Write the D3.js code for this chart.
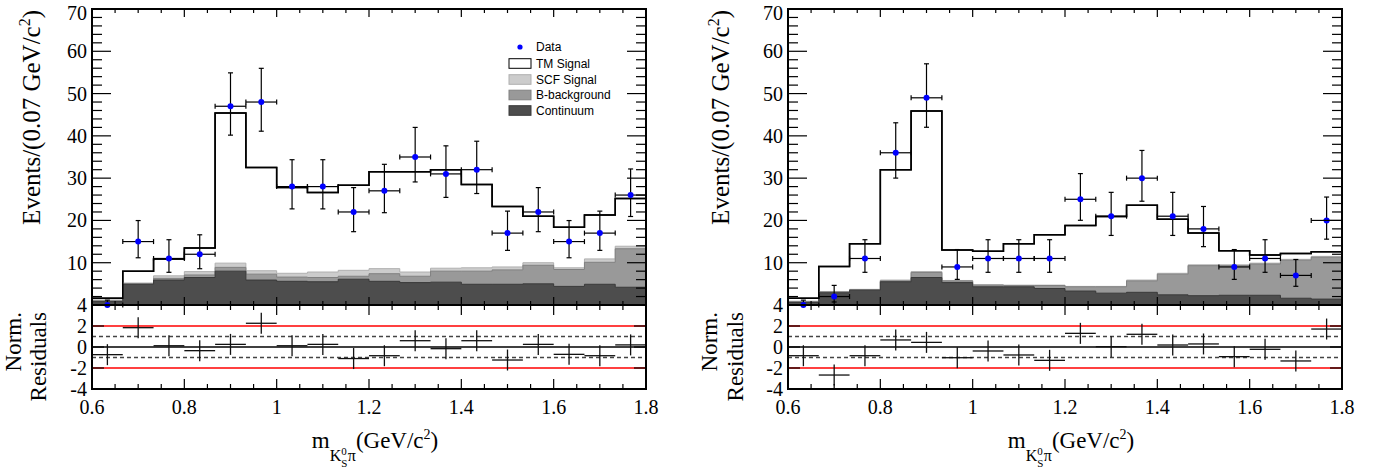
<!DOCTYPE html>
<html>
<head>
<meta charset="utf-8">
<script src="https://cdn.jsdelivr.net/npm/d3@7"></script>
<style>
  body { margin: 0; background: #fff; }
  svg { display: block; }
  text { font-family: "Liberation Serif", "Times New Roman", serif; fill: #000; }
  .legend text { font-family: "Liberation Sans", Arial, sans-serif; }
</style>
</head>
<body>
<div id="chart"></div>
<script>
// binning: 18 bins between 0.6 and 1.8 GeV/c^2
const binLo = 0.6;
const binHi = 1.8;
const nBins = 18;

// LEFT PANEL
// data counts per bin with their (asymmetric) error bars
const leftData = [0, 15, 11, 12, 47, 48, 28, 28, 22, 27, 35, 31, 32, 17, 22, 15, 17, 26];
const leftErrLo = [0, 3.83, 3.27, 3.42, 6.83, 6.9, 5.27, 5.27, 4.66, 5.17, 5.9, 5.55, 5.64, 4.08, 4.66, 3.83, 4.08, 5.07];
const leftErrHi = [1.15, 4.97, 4.44, 4.6, 7.9, 7.97, 6.36, 6.36, 5.76, 6.27, 7.0, 6.64, 6.73, 5.2, 5.76, 4.97, 5.2, 6.17];
// stacked components (bottom to top)
const leftContinuum = [0.8, 4.9, 5.9, 6.5, 8.0, 5.9, 5.6, 5.5, 6.1, 5.6, 5.3, 5.4, 4.9, 4.9, 5.0, 4.4, 4.9, 4.2];
const leftBBkg = [0.2, 0.1, 0.4, 0.6, 0.9, 1.4, 1.0, 1.0, 0.7, 1.8, 1.5, 2.6, 3.1, 3.4, 4.4, 4.0, 5.2, 9.1];
const leftScf = [0.2, 0.2, 0.6, 0.8, 1.0, 0.8, 0.9, 1.3, 1.4, 1.2, 1.0, 0.7, 0.8, 0.7, 0.6, 0.4, 0.8, 0.6];
const leftTm = [0.4, 2.8, 4.0, 5.6, 35.5, 24.4, 20.3, 18.8, 20.1, 22.9, 23.7, 23.3, 19.7, 14.3, 11.0, 9.6, 10.4, 11.3];
// normalized residuals
const leftPull = [-0.73, 1.84, 0.12, -0.35, 0.25, 2.26, 0.12, 0.25, -1.1, -0.83, 0.6, -0.16, 0.6, -1.24, 0.25, -0.7, -0.83, 0.2];

// RIGHT PANEL
const rightData = [0, 2, 11, 36, 49, 9, 11, 11, 11, 25, 21, 30, 21, 18, 9, 11, 7, 20];
const rightErrLo = [0, 1.29, 3.27, 5.99, 6.97, 2.94, 3.27, 3.27, 3.27, 4.97, 4.55, 5.46, 4.55, 4.2, 2.94, 3.27, 2.58, 4.43];
const rightErrHi = [1.15, 2.64, 4.44, 7.09, 8.04, 4.11, 4.44, 4.44, 4.44, 6.07, 5.64, 6.55, 5.64, 5.3, 4.11, 4.44, 3.76, 5.53];
const rightContinuum = [0.6, 2.9, 3.5, 5.5, 6.5, 5.3, 4.3, 4.3, 3.9, 3.3, 2.8, 3.0, 2.4, 2.2, 2.3, 2.3, 1.6, 1.4];
const rightBBkg = [0.2, 0.2, 0.1, 0.2, 1.2, 0.4, 0.4, 0.3, 0.7, 1.0, 1.5, 2.7, 4.9, 7.1, 7.0, 7.4, 9.0, 9.9];
const rightScf = [0.1, 0.1, 0.1, 0.2, 0.2, 0.1, 0.1, 0.1, 0.1, 0.1, 0.1, 0.2, 0.2, 0.2, 0.2, 0.2, 0.2, 0.2];
const rightTm = [0.7, 5.9, 10.8, 26.1, 38.0, 7.2, 7.9, 9.8, 11.9, 14.4, 16.5, 17.7, 12.8, 7.5, 3.3, 1.9, 1.4, 1.1];
const rightPull = [-0.83, -2.67, -0.83, 0.67, 0.44, -1.02, -0.38, -0.76, -1.27, 1.3, 0.03, 1.21, 0.19, 0.29, -0.92, -0.22, -1.33, 1.71];

// tick labels
const xTickLabels = [0.6, 0.8, 1.0, 1.2, 1.4, 1.6, 1.8];
const yTickLabels = [10, 20, 30, 40, 50, 60, 70];
const residTickLabels = [4, 2, 0, -2, -4];

// legend entries
const legendNames = ["Data", "TM Signal", "SCF Signal", "B-background", "Continuum"];

// layer keys and colours (drawn top-down so lower layers paint over)
const layerKeys = ["continuum", "bbkg", "scf", "tm"];
const layerFill = { continuum: "#4d4d4d", bbkg: "#999999", scf: "#cccccc", tm: "#ffffff" };
const layerLine = { continuum: "#3a3a3a", bbkg: "#808080", scf: "#b0b0b0", tm: "#000000" };

// layout
const width = 1380;
const height = 474;
const plotW = 554;
const mainTop = 9;
const mainBottom = 305;
const residBottom = 389;

const svg = d3
  .select("#chart")
  .append("svg")
  .attr("width", width)
  .attr("height", height);

const edges = d3.range(nBins + 1).map(i => binLo + (i * (binHi - binLo)) / nBins);

const panels = [
  {
    left: 92, titleX: 40, normX: 20.5, resX: 46, legend: true,
    data: leftData, errLo: leftErrLo, errHi: leftErrHi, pull: leftPull,
    continuum: leftContinuum, bbkg: leftBBkg, scf: leftScf, tm: leftTm
  },
  {
    left: 788, titleX: 729, normX: 716.5, resX: 743, legend: false,
    data: rightData, errLo: rightErrLo, errHi: rightErrHi, pull: rightPull,
    continuum: rightContinuum, bbkg: rightBBkg, scf: rightScf, tm: rightTm
  }
];

const fmt = d3.format("~g");

const drawPanel = p => {
  const x = d3.scaleLinear().domain([binLo, binHi]).range([p.left, p.left + plotW]);
  const y = d3.scaleLinear().domain([0, 70]).range([mainBottom, mainTop]);
  const yr = d3.scaleLinear().domain([-4, 4]).range([residBottom, mainBottom]);
  const g = svg.append("g");

  // stack the components
  const rows = p.data.map((d, i) => ({
    continuum: p.continuum[i], bbkg: p.bbkg[i], scf: p.scf[i], tm: p.tm[i]
  }));
  const stacked = d3.stack().keys(layerKeys)(rows);

  // step points: one per bin edge, last edge repeats last bin
  const stepPts = layer => {
    const pts = layer.map((s, i) => ({ x: edges[i], top: s[1] }));
    pts.push({ x: edges[nBins], top: layer[nBins - 1][1] });
    return pts;
  };

  const area = d3.area()
    .curve(d3.curveStepAfter)
    .x(d => x(d.x))
    .y0(y(0))
    .y1(d => y(d.top));
  const line = d3.line()
    .curve(d3.curveStepAfter)
    .x(d => x(d.x))
    .y(d => y(d.top));

  // paint from the top layer down
  stacked.slice().reverse().forEach(layer => {
    const pts = stepPts(layer);
    g.append("path")
      .attr("d", area(pts))
      .attr("fill", layerFill[layer.key]);
    g.append("path")
      .attr("d", line(pts))
      .attr("fill", "none")
      .attr("stroke", layerLine[layer.key])
      .attr("stroke-width", layer.key === "tm" ? 1.5 : 1);
  });
  // total line on top
  g.append("path")
    .attr("d", line(stepPts(stacked[stacked.length - 1])))
    .attr("fill", "none")
    .attr("stroke", "#000")
    .attr("stroke-width", 1.5);

  // data points with error bars
  const cap = 2.5;
  const pts = g.append("g").attr("stroke", "#000").attr("stroke-width", 1.2);
  p.data.forEach((d, i) => {
    const cx = x((edges[i] + edges[i + 1]) / 2);
    const x1 = x(edges[i]);
    const x2 = x(edges[i + 1]);
    const yc = y(d);
    const yLo = y(d - p.errLo[i]);
    const yHi = y(d + p.errHi[i]);
    pts.append("line").attr("x1", x1).attr("x2", x2).attr("y1", yc).attr("y2", yc);
    pts.append("line").attr("x1", x1).attr("x2", x1).attr("y1", yc - cap).attr("y2", yc + cap);
    pts.append("line").attr("x1", x2).attr("x2", x2).attr("y1", yc - cap).attr("y2", yc + cap);
    pts.append("line").attr("x1", cx).attr("x2", cx).attr("y1", yLo).attr("y2", yHi);
    pts.append("line").attr("x1", cx - cap).attr("x2", cx + cap).attr("y1", yHi).attr("y2", yHi);
    if (p.errLo[i] > 0) {
      pts.append("line").attr("x1", cx - cap).attr("x2", cx + cap).attr("y1", yLo).attr("y2", yLo);
    }
  });
  g.append("g")
    .selectAll("circle")
    .data(p.data)
    .enter()
    .append("circle")
    .attr("cx", (d, i) => x((edges[i] + edges[i + 1]) / 2))
    .attr("cy", d => y(d))
    .attr("r", 3)
    .attr("fill", "#0000ff");

  // residual reference lines
  const xa = x(binLo);
  const xb = x(binHi);
  [2, -2].forEach(v => {
    g.append("line").attr("x1", xa).attr("x2", xb).attr("y1", yr(v)).attr("y2", yr(v))
      .attr("stroke", "#ff0000").attr("stroke-width", 1.5);
  });
  [1, -1].forEach(v => {
    g.append("line").attr("x1", xa).attr("x2", xb).attr("y1", yr(v)).attr("y2", yr(v))
      .attr("stroke", "#444").attr("stroke-width", 1.5).attr("stroke-dasharray", "4,3");
  });
  g.append("line").attr("x1", xa).attr("x2", xb).attr("y1", yr(0)).attr("y2", yr(0))
    .attr("stroke", "#000").attr("stroke-width", 1.5);

  // residual crosses
  const res = g.append("g").attr("stroke", "#111").attr("stroke-width", 1.3);
  p.pull.forEach((r, i) => {
    const cx = x((edges[i] + edges[i + 1]) / 2);
    res.append("line").attr("x1", x(edges[i])).attr("x2", x(edges[i + 1]))
      .attr("y1", yr(r)).attr("y2", yr(r));
    res.append("line").attr("x1", cx).attr("x2", cx)
      .attr("y1", yr(r - 1)).attr("y2", yr(r + 1));
  });

  // ticks (ROOT style: inside the frame on every side)
  const ticks = g.append("g").attr("stroke", "#000").attr("stroke-width", 1.2);
  const tick = (x1, y1, x2, y2) =>
    ticks.append("line").attr("x1", x1).attr("y1", y1).attr("x2", x2).attr("y2", y2);
  const major = x.ticks(6);
  x.ticks(24).forEach(v => {
    const isMajor = major.some(m => Math.abs(m - v) < 1e-9);
    const xv = x(v);
    const lm = isMajor ? 8 : 4;
    const lr = isMajor ? 10 : 5;
    tick(xv, mainTop, xv, mainTop + lm);
    tick(xv, mainBottom, xv, mainBottom - lm);
    tick(xv, mainBottom, xv, mainBottom + lr);
    tick(xv, residBottom, xv, residBottom - lr);
  });
  const yMajor = y.ticks(7);
  y.ticks(35).forEach(v => {
    const isMajor = yMajor.includes(v);
    const l = isMajor ? 19 : 10;
    tick(xa, y(v), xa + l, y(v));
    tick(xb, y(v), xb - l, y(v));
  });
  residTickLabels.forEach(v => {
    tick(xa, yr(v), xa + 12, yr(v));
    tick(xb, yr(v), xb - 12, yr(v));
  });

  // frames
  g.append("rect").attr("x", xa).attr("y", mainTop).attr("width", plotW)
    .attr("height", mainBottom - mainTop).attr("fill", "none")
    .attr("stroke", "#000").attr("stroke-width", 2);
  g.append("rect").attr("x", xa).attr("y", mainBottom).attr("width", plotW)
    .attr("height", residBottom - mainBottom).attr("fill", "none")
    .attr("stroke", "#000").attr("stroke-width", 2);

  // tick labels (top one nudged down so it stays inside the page)
  const labels = g.append("g").attr("font-size", 20);
  yTickLabels.forEach(v => {
    labels.append("text").attr("x", xa - 5).attr("y", Math.max(y(v), 13)).attr("dy", "0.35em")
      .attr("text-anchor", "end").text(fmt(v));
  });
  residTickLabels.forEach(v => {
    labels.append("text").attr("x", xa - 5).attr("y", yr(v)).attr("dy", "0.35em")
      .attr("text-anchor", "end").text(String(v));
  });
  xTickLabels.forEach(v => {
    labels.append("text").attr("x", x(v)).attr("y", 414)
      .attr("text-anchor", "middle").text(fmt(v));
  });

  // y titles
  const yt = g.append("text")
    .attr("transform", `translate(${p.titleX}, 10) rotate(-90)`)
    .attr("text-anchor", "end")
    .attr("font-size", 25);
  yt.append("tspan").text("Events/(0.07 GeV/c");
  yt.append("tspan").attr("font-size", 16).attr("dy", -10).text("2");
  yt.append("tspan").attr("dy", 10).text(")");

  g.append("text")
    .attr("transform", `translate(${p.normX}, 312) rotate(-90)`)
    .attr("text-anchor", "end")
    .attr("font-size", 23)
    .text("Norm.");
  g.append("text")
    .attr("transform", `translate(${p.resX}, 312) rotate(-90)`)
    .attr("text-anchor", "end")
    .attr("font-size", 23)
    .text("Residuals");

  // x title: m_{K^0_S pi}(GeV/c^2)
  const xt = g.append("text")
    .attr("x", p.left + plotW / 2 + 6)
    .attr("y", 448)
    .attr("text-anchor", "middle")
    .attr("font-size", 23);
  xt.append("tspan").text("m");
  xt.append("tspan").attr("font-size", 16).attr("dy", 13).text("K");
  xt.append("tspan").attr("font-size", 11).attr("dy", 6).text("S");
  xt.append("tspan").attr("font-size", 11).attr("dx", -6).attr("dy", -12).text("0");
  xt.append("tspan").attr("font-size", 16).attr("dx", 1).attr("dy", 6).text("π");
  xt.append("tspan").attr("dy", -13).text("(GeV/c");
  xt.append("tspan").attr("font-size", 14).attr("dy", -9).text("2");
  xt.append("tspan").attr("dy", 9).text(")");

  // legend
  if (p.legend) {
    const lg = g.append("g").attr("class", "legend");
    const rowY = [47, 63.5, 79.5, 95, 110.5];
    const boxX = p.left + 417;
    const swatch = ["data", "tm", "scf", "bbkg", "continuum"];
    legendNames.forEach((name, i) => {
      if (swatch[i] === "data") {
        lg.append("circle").attr("cx", boxX + 11).attr("cy", rowY[i]).attr("r", 2.6)
          .attr("fill", "#0000ff");
      } else {
        lg.append("rect").attr("x", boxX).attr("y", rowY[i] - 4.8)
          .attr("width", 22).attr("height", 9.6)
          .attr("fill", layerFill[swatch[i]])
          .attr("stroke", swatch[i] === "tm" ? "#000" : layerLine[swatch[i]])
          .attr("stroke-width", 1);
      }
      lg.append("text").attr("x", boxX + 27).attr("y", rowY[i]).attr("dy", "0.36em")
        .attr("font-size", 12).text(name);
    });
  }
};

panels.forEach(drawPanel);
</script>
</body>
</html>
